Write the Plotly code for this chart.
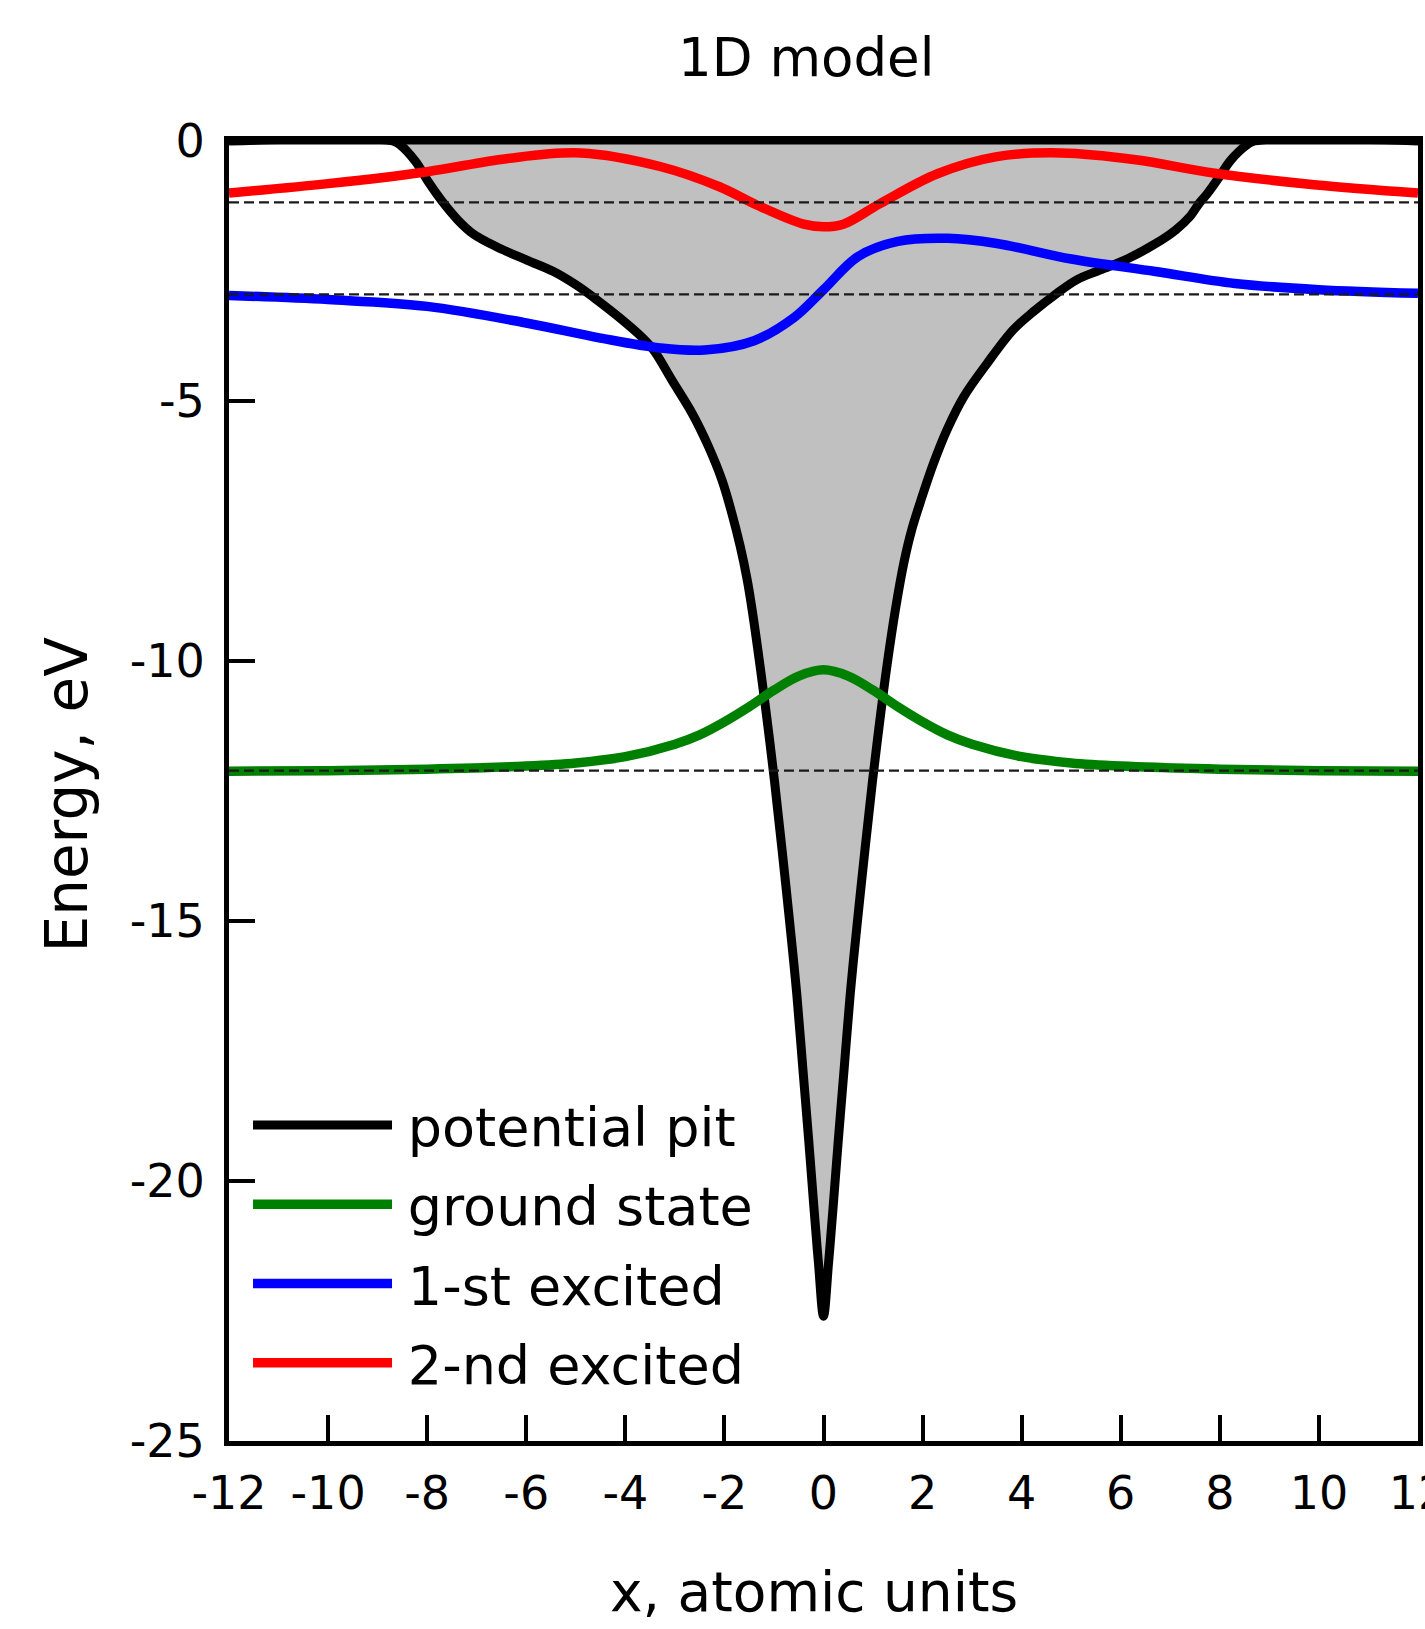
import plotly.graph_objects as go

# ---------------- data ----------------
pit_x = [-12, -8.7, -8.54, -8.23, -7.96, -7.69, -7.38, -7.08, -6.61, -5.99, -5.45, -4.99,
         -4.61, -4.14, -3.68, -3.43, -3.06, -2.65, -2.32, -2.05, -1.85, -1.68, -1.54, -1.44,
         -1.28, -1.13, -0.99, -0.84, -0.68, -0.54, -0.42, -0.3, -0.19, -0.1, 0,
         0.1, 0.19, 0.3, 0.42, 0.54, 0.68, 0.84, 0.99, 1.13, 1.28,
         1.45, 1.62, 1.78, 1.99, 2.22, 2.49, 2.83, 3.3, 3.83, 4.24, 4.71, 5.11, 5.59, 6.15,
         6.71, 7.11, 7.39, 7.59, 7.75, 7.99, 8.22, 8.54, 8.7, 12]
pit_v = [0, 0, -0.08, -0.40, -0.81, -1.17, -1.52, -1.78, -2.03, -2.29, -2.51, -2.77,
         -3.03, -3.38, -3.76, -4.02, -4.6, -5.24, -5.88, -6.52, -7.16, -7.8, -8.44, -9.02,
         -10.1, -11.2, -12.3, -13.6, -15.05, -16.4, -17.8, -19.2, -20.55, -21.6, -22.6,
         -21.6, -20.55, -19.2, -17.8, -16.4, -15.05, -13.6, -12.3, -11.2, -10.1,
         -9.02, -8.12, -7.48, -6.84, -6.2, -5.56, -4.92, -4.28, -3.63, -3.28, -2.93, -2.67, -2.48, -2.26,
         -1.97, -1.71, -1.46, -1.19, -1.01, -0.69, -0.37, -0.08, 0, 0]

ground_x = [-12, -10, -8, -6, -5, -4, -3, -2.5, -2, -1.5, -1, -0.5, 0,
            0.5, 1, 1.5, 2, 2.5, 3, 4, 5, 6, 8, 10, 12]
ground_e = [-12.12, -12.11, -12.08, -12.02, -11.96, -11.84, -11.6, -11.42, -11.17, -10.88, -10.56, -10.29, -10.17,
            -10.29, -10.56, -10.88, -11.17, -11.42, -11.6, -11.84, -11.96, -12.02, -12.08, -12.11, -12.12]

first_x = [-12, -10, -8, -6, -4.5, -3.3, -2.4, -1.4, -0.6, 0, 0.7, 1.5, 2.5, 3.5, 5, 6.7, 8.3, 10, 12]
first_e = [-2.97, -3.05, -3.18, -3.5, -3.79, -3.98, -4.02, -3.84, -3.4, -2.86, -2.22, -1.93, -1.87, -1.97,
           -2.27, -2.51, -2.74, -2.86, -2.93]

second_x = [-12, -10, -8, -6.4, -4.9, -3.3, -2.1, -1.35, -0.4, 0, 0.4, 1.15, 2.3, 3.5, 4.8, 6.3, 7.9, 9.9, 12]
second_e = [-1.0, -0.82, -0.59, -0.34, -0.23, -0.49, -0.88, -1.23, -1.6, -1.65, -1.6, -1.2, -0.63, -0.3,
            -0.23, -0.36, -0.62, -0.84, -1.0]

levels = [-12.11, -2.95, -1.18]
level_span = [-12, 12]

names = ["potential pit", "ground state", "1-st excited", "2-nd excited"]
colors = ["#000000", "#008000", "#0000ff", "#ff0000"]

x_tickvals = [-12, -10, -8, -6, -4, -2, 0, 2, 4, 6, 8, 10, 12]
x_ticktext = ["-12", "-10", "-8", "-6", "-4", "-2", "0", "2", "4", "6", "8", "10", "12"]
y_tickvals = [0, -5, -10, -15, -20, -25]
y_ticktext = ["0", "-5", "-10", "-15", "-20", "-25"]

FONT = "DejaVu Sans"
LEG_PAD = "\u2009"  # thin space between legend line and text

fig = go.Figure()

# gray filled pit
fig.add_trace(go.Scatter(x=pit_x, y=pit_v, mode="lines", fill="tozeroy",
                         fillcolor="#c0c0c0", line=dict(width=0, shape="spline", smoothing=1),
                         showlegend=False, hoverinfo="skip"))
# pit outline
fig.add_trace(go.Scatter(x=pit_x, y=pit_v, mode="lines", name=LEG_PAD + names[0], legendgroup="a",
                         line=dict(color=colors[0], width=9, shape="spline", smoothing=1)))
for i, (xs, ys) in enumerate([(ground_x, ground_e), (first_x, first_e), (second_x, second_e)]):
    fig.add_trace(go.Scatter(x=xs, y=ys, mode="lines", name=LEG_PAD + names[i + 1], legendgroup="g%d" % i,
                             line=dict(color=colors[i + 1], width=9.5, shape="spline", smoothing=1)))
for lv in levels:
    fig.add_trace(go.Scatter(x=level_span, y=[lv, lv], mode="lines", showlegend=False,
                             line=dict(color="#1a1a1a", width=2.2, dash="10px,5px"), hoverinfo="skip"))

axis_common = dict(showgrid=False, zeroline=False, showline=True, linecolor="black",
                   linewidth=5, mirror=True, ticks="inside", ticklen=26, tickwidth=3.5,
                   tickcolor="black", tickfont=dict(family=FONT, size=46, color="black"),
                   ticklabeloverflow="allow", automargin=False)

fig.update_xaxes(range=[-12, 12], tickmode="array", tickvals=x_tickvals, ticktext=x_ticktext,
                 ticklabelstandoff=8, **axis_common)
fig.update_yaxes(range=[-25, 0], tickmode="array", tickvals=y_tickvals, ticktext=y_ticktext,
                 ticklabelstandoff=10, **axis_common)

# thicker top frame line
fig.add_shape(type="line", xref="x domain", yref="y domain", x0=0, x1=1, y0=1, y1=1,
              line=dict(color="black", width=7))

W, H = 1425, 1629
L, R, T, B = 228.5, 7, 141, 188
PW, PH = W - L - R, H - T - B
fig.update_layout(
    width=W, height=H, autosize=False,
    margin=dict(l=L, r=R, t=T, b=B, autoexpand=False),
    paper_bgcolor="white", plot_bgcolor="white",
    font=dict(family=FONT, color="black"),
    showlegend=True,
    legend=dict(x=0.016, y=0.275, xanchor="left", yanchor="top", bgcolor="rgba(0,0,0,0)",
                font=dict(family=FONT, size=54, color="black"), itemwidth=139,
                tracegroupgap=6, traceorder="grouped"),
    annotations=[
        dict(text="1D model", xref="paper", yref="paper", x=(806 - L) / PW,
             y=1 + (T - 58) / PH, xanchor="center", yanchor="middle",
             showarrow=False, font=dict(family=FONT, size=53, color="black")),
        dict(text="Energy, eV", xref="paper", yref="paper", x=(66 - L) / PW,
             y=0.497, xanchor="center", yanchor="middle", textangle=-90,
             showarrow=False, font=dict(family=FONT, size=58, color="black")),
        dict(text="x, atomic units", xref="paper", yref="paper", x=(814 - L) / PW,
             y=-(1592 - (H - B)) / PH, xanchor="center", yanchor="middle",
             showarrow=False, font=dict(family=FONT, size=55, color="black")),
    ],
)

fig.write_html("out.html", config={"displayModeBar": False},
               post_script="document.body.style.margin='0';document.body.style.overflow='hidden';")
